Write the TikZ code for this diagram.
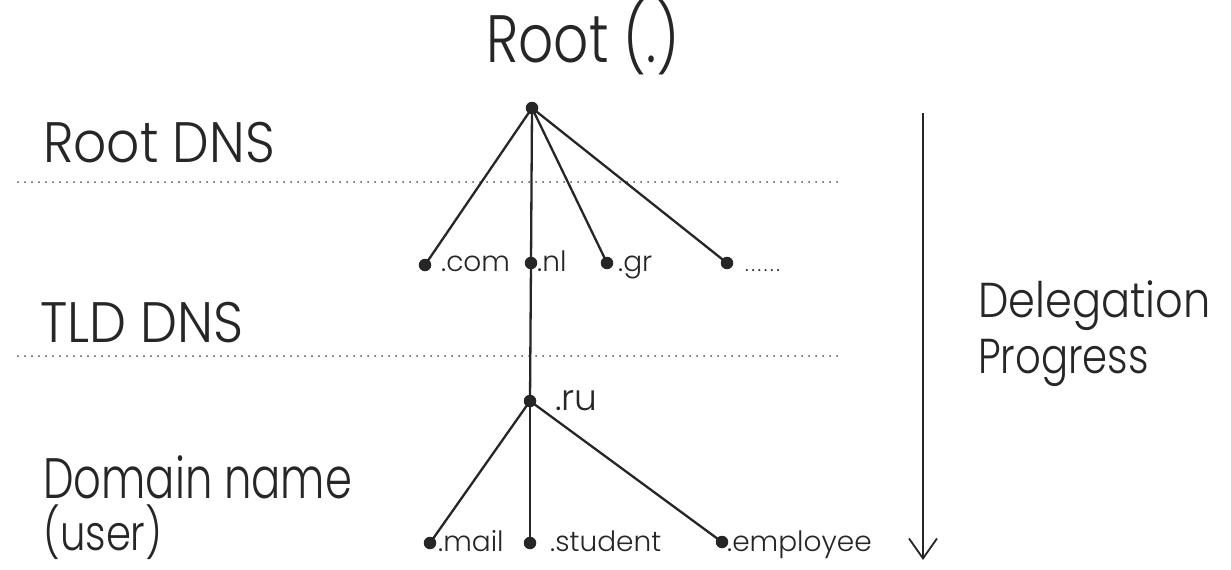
\documentclass[tikz,border=0pt]{standalone}
\usepackage{fontspec}
\IfFontExistsTF{Poppins Light}{\setmainfont{Poppins Light}}{\setmainfont{Poppins}}
\usetikzlibrary{arrows.meta}
\definecolor{ink}{HTML}{262626}
\begin{document}
\begin{tikzpicture}[x=1pt,y=-1pt,
  dotn/.style={circle,fill=ink,inner sep=0pt,minimum size=12.5pt},
  edge/.style={draw=ink,line width=2.3pt},
  lvl/.style 2 args={anchor=base west,text=ink,inner sep=0pt,
     font=\fontsize{#1}{#1}\selectfont\addfontfeatures{FakeStretch=#2}},
  lbl/.style={anchor=base west,text=ink,font=\fontsize{28}{30}\selectfont,inner sep=0pt},
  sep/.style={draw=ink!80,line width=2pt,line cap=round,dash pattern=on 0pt off 7pt}]
\useasboundingbox[fill=white] (0,0) rectangle (1231,570);
% title
\node[lvl={67}{0.82},anchor=base] (title) at (583,62) {Root (.)};
% level labels
\node[lvl={57}{0.91}] (rootdns) at (43,162) {Root DNS};
\node[lvl={57}{0.92}] (tlddns) at (40,342) {TLD DNS};
\node[lvl={57}{0.76}] (domain) at (43,498) {Domain name};
\node[lvl={49}{0.82}] (user) at (43,550) {(user)};
\node[lvl={49}{0.88}] (deleg) at (978,317) {Delegation};
\node[lvl={49}{0.82}] (progr) at (978,373) {Progress};
% separators
\coordinate (s1a) at (18,182);
\coordinate (s1b) at (843,182);
\coordinate (s2a) at (18,356);
\coordinate (s2b) at (843,356);
\draw[sep] (s1a) -- (s1b);
\draw[sep] (s2a) -- (s2b);
% tree dots
\node[dotn] (root) at (532,108) {};
\node[dotn] (com) at (425,265) {};
\node[dotn] (nl) at (531,263) {};
\node[dotn] (gr) at (607,263) {};
\node[dotn] (etc) at (727,263) {};
\node[dotn] (ru) at (530,401) {};
\node[dotn] (mail) at (430,543) {};
\node[dotn] (student) at (530,543) {};
\node[dotn] (employee) at (722,542) {};
% tree labels
\node[lbl] (tcom) at (441,271) {.com};
\node[lbl] (tnl) at (537,271) {.nl};
\node[lbl] (tgr) at (618,271) {.gr};
\node[lbl,font=\fontsize{20}{24}\selectfont] (tetc) at (745,271) {.\hspace{2.6pt}.\hspace{2.6pt}.\hspace{2.6pt}.\hspace{2.6pt}.\hspace{2.6pt}.};
\node[lbl,font=\fontsize{36}{38}\selectfont] (tru) at (555,410) {.ru};
\node[lbl] (tmail) at (438,551) {.mail};
\node[lbl] (tstudent) at (550,551) {.student};
\node[lbl] (temployee) at (727,551) {.employee};
% edges
\draw[edge] (root.center) -- (com.center);
\draw[edge] (root.center) -- (nl.center);
\draw[edge] (root.center) -- (gr.center);
\draw[edge] (root.center) -- (etc.center);
\draw[edge] (nl.center) -- (ru.center);
\draw[edge] (ru.center) -- (mail.center);
\draw[edge] (ru.center) -- (student.center);
\draw[edge] (ru.center) -- (employee.center);
% delegation arrow
\coordinate (atop) at (923,113);
\coordinate (abot) at (923,560);
\draw[draw=ink,line width=1.8pt,-{Straight Barb[length=20pt,width=28pt,line width=1.8pt]}] (atop) -- (abot);
\end{tikzpicture}
\end{document}
